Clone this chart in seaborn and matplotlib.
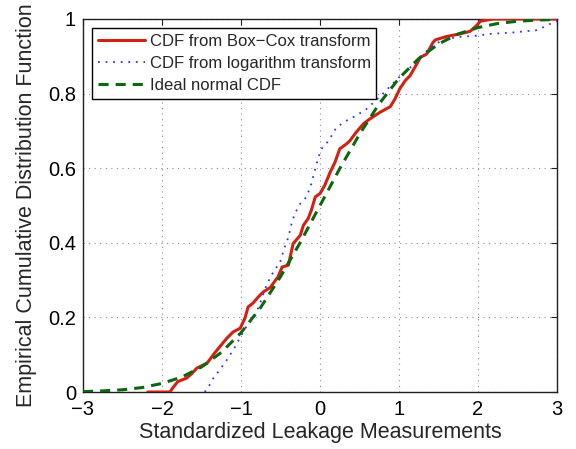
import matplotlib
matplotlib.use("Agg")
import matplotlib.pyplot as plt
import pandas as pd
import seaborn as sns

# Empirical CDF after Box-Cox transform (standardized)
boxcox_x = [-2.18, -1.90, -1.86, -1.80, -1.69, -1.62, -1.56, -1.43, -1.35, -1.27,
            -1.18, -1.10, -1.01, -0.95, -0.91, -0.85, -0.78, -0.72, -0.63, -0.53,
            -0.48, -0.40, -0.34, -0.25, -0.21, -0.15, -0.11, -0.06, 0.00, 0.06,
            0.13, 0.19, 0.25, 0.34, 0.38, 0.46, 0.55, 0.63, 0.76, 0.89,
            0.95, 1.01, 1.08, 1.14, 1.20, 1.27, 1.35, 1.43, 1.46, 1.60,
            1.77, 1.90, 1.98, 2.03, 2.19, 3.00]
boxcox_y = [0.000, 0.000, 0.012, 0.028, 0.037, 0.050, 0.064, 0.077, 0.100, 0.121,
            0.144, 0.161, 0.171, 0.198, 0.228, 0.238, 0.255, 0.268, 0.280, 0.309,
            0.335, 0.340, 0.398, 0.420, 0.447, 0.465, 0.487, 0.523, 0.532, 0.554,
            0.590, 0.616, 0.652, 0.666, 0.674, 0.697, 0.719, 0.732, 0.750, 0.765,
            0.786, 0.813, 0.835, 0.848, 0.870, 0.897, 0.906, 0.937, 0.944, 0.953,
            0.960, 0.967, 0.982, 0.994, 1.000, 1.000]

# Empirical CDF after logarithm transform (standardized)
log_x = [-1.46, -1.41, -1.35, -1.27, -1.18, -1.10, -1.03, -0.97, -0.91, -0.82,
         -0.76, -0.67, -0.57, -0.51, -0.46, -0.40, -0.36, -0.32, -0.25, -0.17,
         -0.11, -0.06, -0.02, 0.02, 0.11, 0.21, 0.34, 0.46, 0.59, 0.75,
         0.89, 1.03, 1.17, 1.31, 1.45, 1.60, 1.75, 1.98, 2.15, 2.45,
         2.74, 2.87, 2.95, 3.00]
log_y = [0.000, 0.014, 0.037, 0.059, 0.086, 0.112, 0.139, 0.161, 0.184, 0.206,
         0.237, 0.290, 0.330, 0.344, 0.380, 0.415, 0.451, 0.478, 0.505, 0.523,
         0.558, 0.599, 0.630, 0.652, 0.674, 0.710, 0.728, 0.741, 0.759, 0.790,
         0.820, 0.850, 0.875, 0.906, 0.933, 0.946, 0.952, 0.955, 0.960, 0.964,
         0.970, 0.982, 0.991, 0.995]

# Ideal standard normal CDF
normal_x = [-3.00, -2.75, -2.50, -2.25, -2.00, -1.75, -1.50, -1.25, -1.00, -0.75,
            -0.50, -0.25, 0.00, 0.25, 0.50, 0.75, 1.00, 1.25, 1.50, 1.75,
            2.00, 2.25, 2.50, 2.75, 3.00]
normal_y = [0.001, 0.003, 0.006, 0.012, 0.023, 0.040, 0.067, 0.106, 0.159, 0.227,
            0.309, 0.401, 0.500, 0.599, 0.691, 0.773, 0.841, 0.894, 0.933, 0.960,
            0.977, 0.988, 0.994, 0.997, 0.999]

labels = ["CDF from Box\u2212Cox transform",
          "CDF from logarithm transform",
          "Ideal normal CDF"]
x_ticks = [-3, -2, -1, 0, 1, 2, 3]
x_tick_labels = ["\u22123", "\u22122", "\u22121", "0", "1", "2", "3"]
y_ticks = [0, 0.2, 0.4, 0.6, 0.8, 1]
y_tick_labels = ["0", "0.2", "0.4", "0.6", "0.8", "1"]

sns.set_style("white")
plt.rcParams["font.family"] = ["Liberation Sans", "DejaVu Sans"]

fig = plt.figure(figsize=(5.76, 4.49), dpi=100)
ax = fig.add_axes([83 / 576, 1 - 392 / 449, 474 / 576, 373 / 449])

red = "#d42014"
blue = "#2a35ff"
green = "#0b680e"

df_bc = pd.DataFrame({"x": boxcox_x, "y": boxcox_y})
df_log = pd.DataFrame({"x": log_x, "y": log_y})
df_norm = pd.DataFrame({"x": normal_x, "y": normal_y})

sns.lineplot(data=df_bc, x="x", y="y", ax=ax, sort=False, estimator=None,
             color=red, linewidth=2.2, label=labels[0], zorder=3)
sns.lineplot(data=df_log, x="x", y="y", ax=ax, sort=False, estimator=None,
             color=blue, linewidth=1.3, label=labels[1], zorder=4)
sns.lineplot(data=df_norm, x="x", y="y", ax=ax, sort=False, estimator=None,
             color=green, linewidth=2.2, label=labels[2], zorder=5)
ax.lines[1].set_linestyle((0, (1, 3.2)))
ax.lines[2].set_linestyle((0, (3.3, 2.3)))

ax.set_xlim(-3, 3)
ax.set_ylim(0, 1)
ax.set_xticks(x_ticks)
ax.set_xticklabels(x_tick_labels)
ax.set_yticks(y_ticks)
ax.set_yticklabels(y_tick_labels)

ax.grid(True, color="#8a8a8a", linestyle=(0, (1, 4)), linewidth=0.8)
for s in ax.spines.values():
    s.set_color("#202020")
    s.set_linewidth(1.0)
    s.set_visible(True)

ax.tick_params(axis="both", direction="in", length=4, width=0.8,
               top=True, right=True, labelsize=14.5, colors="#202020",
               labelcolor="black")
ax.tick_params(axis="x", pad=6)
ax.tick_params(axis="y", pad=5)

ax.set_xlabel("Standardized Leakage Measurements", fontsize=15.5, labelpad=2)
ax.set_ylabel("Empirical Cumulative Distribution Function", fontsize=15.5, labelpad=8)

leg = ax.legend(loc="upper left", bbox_to_anchor=(0.019, 0.976), borderaxespad=0,
                fontsize=12, frameon=True, fancybox=False, edgecolor="black",
                framealpha=1, handlelength=2.8, handletextpad=0.3,
                borderpad=0.35, labelspacing=0.42)
leg.get_frame().set_linewidth(1.0)

fig.savefig("out.png", dpi=100)
